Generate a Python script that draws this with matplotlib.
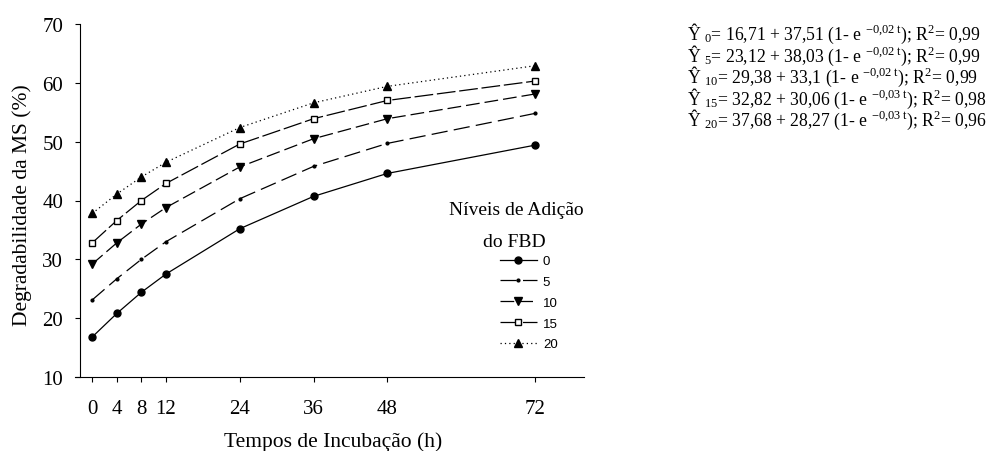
import numpy as np
import matplotlib
matplotlib.use('Agg')
import matplotlib.pyplot as plt

plt.rcParams['font.family'] = ['Liberation Serif', 'DejaVu Serif']
plt.rcParams['mathtext.fontset'] = 'custom'
plt.rcParams['mathtext.rm'] = 'Liberation Serif'
plt.rcParams['mathtext.it'] = 'Liberation Serif:italic'
plt.rcParams['mathtext.bf'] = 'Liberation Serif:bold'

# data
times = [0, 4, 8, 12, 24, 36, 48, 72]
levels = ['0', '5', '10', '15', '20']
deg_0 = [16.8, 20.8, 24.4, 27.5, 35.2, 40.7, 44.6, 49.4]
deg_5 = [23.1, 26.7, 30.0, 33.0, 40.3, 45.8, 49.7, 54.8]
deg_10 = [29.2, 32.8, 36.0, 38.8, 45.7, 50.5, 53.9, 58.1]
deg_15 = [32.8, 36.6, 40.0, 42.9, 49.6, 53.9, 57.0, 60.3]
deg_20 = [37.8, 41.1, 44.0, 46.5, 52.4, 56.6, 59.4, 62.9]

equations = [
    'Ŷ $_{\\mathrm{0}}$= 16,71 + 37,51 (1- e $^{\\mathrm{-0{,}02\\ t}}$); R$^{\\mathrm{2}}$= 0,99',
    'Ŷ $_{\\mathrm{5}}$= 23,12 + 38,03 (1- e $^{\\mathrm{-0{,}02\\ t}}$); R$^{\\mathrm{2}}$= 0,99',
    'Ŷ $_{\\mathrm{10}}$= 29,38 + 33,1 (1- e $^{\\mathrm{-0{,}02\\ t}}$); R$^{\\mathrm{2}}$= 0,99',
    'Ŷ $_{\\mathrm{15}}$= 32,82 + 30,06 (1- e $^{\\mathrm{-0{,}03\\ t}}$); R$^{\\mathrm{2}}$= 0,98',
    'Ŷ $_{\\mathrm{20}}$= 37,68 + 28,27 (1- e $^{\\mathrm{-0{,}03\\ t}}$); R$^{\\mathrm{2}}$= 0,96',
]

series = [deg_0, deg_5, deg_10, deg_15, deg_20]
styles = [
    dict(marker='o', ms=5, mfc='black', ls='-'),
    dict(marker='o', ms=2, mfc='black', ls=(0, (13, 5))),
    dict(marker='v', ms=6, mfc='black', ls=(0, (11, 4))),
    dict(marker='s', ms=5, mfc='white', ls=(0, (15, 3))),
    dict(marker='^', ms=6, mfc='black', ls=(0, (1, 2.5))),
]

fig = plt.figure(figsize=(9.96, 4.52), dpi=100)
ax = fig.add_axes([75 / 996, 1 - 378 / 452, 509 / 996, 353 / 452])

handles = []
for vals, st, lab in zip(series, styles, levels):
    h, = ax.plot(times, vals, color='black', mec='black', lw=0.9,
                 label=lab, **st)
    handles.append(h)

ax.set_xlim(-2.8, 80)
ax.set_ylim(10, 70)
ax.set_xticks(times)
ax.set_yticks(range(10, 71, 10))
ax.spines['top'].set_visible(False)
ax.spines['right'].set_visible(False)
ax.spines['left'].set_position(('data', -2))
ax.spines['left'].set_bounds(10, 70)
ax.tick_params(axis='x', direction='out', length=3.6, pad=12, labelsize=15)
ax.tick_params(axis='y', direction='out', length=3.6, pad=8.5, labelsize=15)
ax.set_xlabel('Tempos de Incubação (h)', fontsize=15.5)
ax.set_ylabel('Degradabilidade da MS (%)', fontsize=15.5)
ax.xaxis.set_label_coords((333 - 75) / 509, (378 - 432) / 353)
ax.yaxis.set_label_coords((32 - 75) / 509, (378 - 205) / 353)

# legend
fig.text(516 / 996, 1 - 211 / 452, 'Níveis de Adição', ha='center', va='center',
         fontsize=14)
fig.text(514 / 996, 1 - 243 / 452, 'do FBD', ha='center', va='center',
         fontsize=14)
ax.legend(handles=handles, loc='upper left', frameon=False,
          bbox_to_anchor=(500 / 996, 1 - 256 / 452), bbox_transform=fig.transFigure,
          borderpad=0, borderaxespad=0, handlelength=2.8, handletextpad=0.45,
          labelspacing=0.65, prop={'family': 'Liberation Sans', 'size': 9.5})

# equations
for i, eq in enumerate(equations):
    fig.text(687 / 996, 1 - (40 + 21.5 * i) / 452, eq, ha='left', va='baseline',
             fontsize=12.7)

fig.savefig('out.png', dpi=100)
